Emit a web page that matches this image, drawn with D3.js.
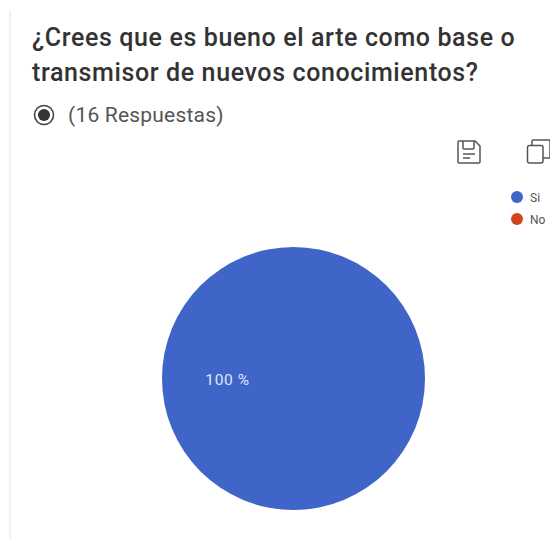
<!DOCTYPE html>
<html>
<head>
<meta charset="utf-8">
<script src="https://cdn.jsdelivr.net/npm/d3@7"></script>
<style>
html, body { margin: 0; padding: 0; background: #fff; overflow: hidden; }
text { font-family: Roboto, "Liberation Sans", sans-serif; }
</style>
</head>
<body>
<svg id="chart" width="550" height="539"></svg>
<script>
const categories = ["Si", "No"];
const values = [16, 0];
const colors = ["#3f65c8", "#d2431f"];
const titleLines = ["¿Crees que es bueno el arte como base o", "transmisor de nuevos conocimientos?"];
const responses = "(16 Respuestas)";

const svg = d3.select("#chart");

// left page edge
svg.append("rect")
    .attr("x", 9).attr("y", 11)
    .attr("width", 2).attr("height", 528)
    .attr("fill", "#f1f1f1");

svg.selectAll(".title")
    .data(titleLines)
    .join("text")
    .attr("class", "title")
    .attr("x", 32)
    .attr("y", (d, i) => 46 + i * 35)
    .attr("font-size", 25)
    .attr("font-weight", 500)
    .attr("letter-spacing", 0.62)
    .attr("fill", "#333")
    .text(d => d);

// radio mark
svg.append("circle")
    .attr("cx", 44).attr("cy", 115).attr("r", 9.5)
    .attr("fill", "none").attr("stroke", "#444").attr("stroke-width", 1.6);
svg.append("circle")
    .attr("cx", 44).attr("cy", 115).attr("r", 6)
    .attr("fill", "#333");

svg.append("text")
    .attr("x", 68).attr("y", 122)
    .attr("font-size", 21)
    .attr("letter-spacing", 0.2)
    .attr("fill", "#555")
    .text(responses);

// save icon
const save = svg.append("g")
    .attr("transform", "translate(457,140)")
    .attr("fill", "none")
    .attr("stroke", "#555")
    .attr("stroke-width", 1.5);
save.append("path").attr("d", "M2,1H18L23,6V22Q23,23 22,23H2Q1,23 1,22V2Q1,1 2,1Z");
save.append("path").attr("d", "M6,1V8Q6,9 7,9H16Q17,9 17,8V1");
save.append("path").attr("d", "M6,14H18M6,18H13");

// copy icon
const copy = svg.append("g")
    .attr("transform", "translate(527,139)")
    .attr("fill", "none")
    .attr("stroke", "#555")
    .attr("stroke-width", 1.5);
copy.append("path").attr("d", "M5,6V2Q5,1 6,1H22Q23,1 23,2V18Q23,19 22,19H16");
copy.append("rect").attr("x", 0.5).attr("y", 6.5).attr("width", 15.5).attr("height", 17.5).attr("rx", 2);

// pie
const pie = d3.pie().sort(null).value(d => d);
const arc = d3.arc().innerRadius(0).outerRadius(131.5);
const pieG = svg.append("g").attr("transform", "translate(293.5,378.5)");
pieG.selectAll("path")
    .data(pie(values))
    .join("path")
    .attr("d", arc)
    .attr("fill", (d, i) => colors[i]);

const total = d3.sum(values);
const pct = d3.format(".0f");
pieG.selectAll("text")
    .data(pie(values).filter(d => d.value > 0))
    .join("text")
    .attr("x", -66)
    .attr("y", 2.5)
    .attr("text-anchor", "middle")
    .attr("dominant-baseline", "middle")
    .attr("font-size", 15.5)
    .attr("letter-spacing", 0.6)
    .attr("fill", "#dfe5f5")
    .text(d => pct(d.value / total * 100) + " %");

// legend
const y = d3.scalePoint().domain(categories).range([197, 219]);
const legend = svg.selectAll(".legend")
    .data(categories)
    .join("g")
    .attr("class", "legend")
    .attr("transform", d => `translate(0,${y(d)})`);
legend.append("circle")
    .attr("cx", 517).attr("cy", 0).attr("r", 6)
    .attr("fill", (d, i) => colors[i]);
legend.append("text")
    .attr("x", 530).attr("y", 4.5)
    .attr("font-size", 12)
    .attr("fill", "#555")
    .text(d => d);
</script>
</body>
</html>
